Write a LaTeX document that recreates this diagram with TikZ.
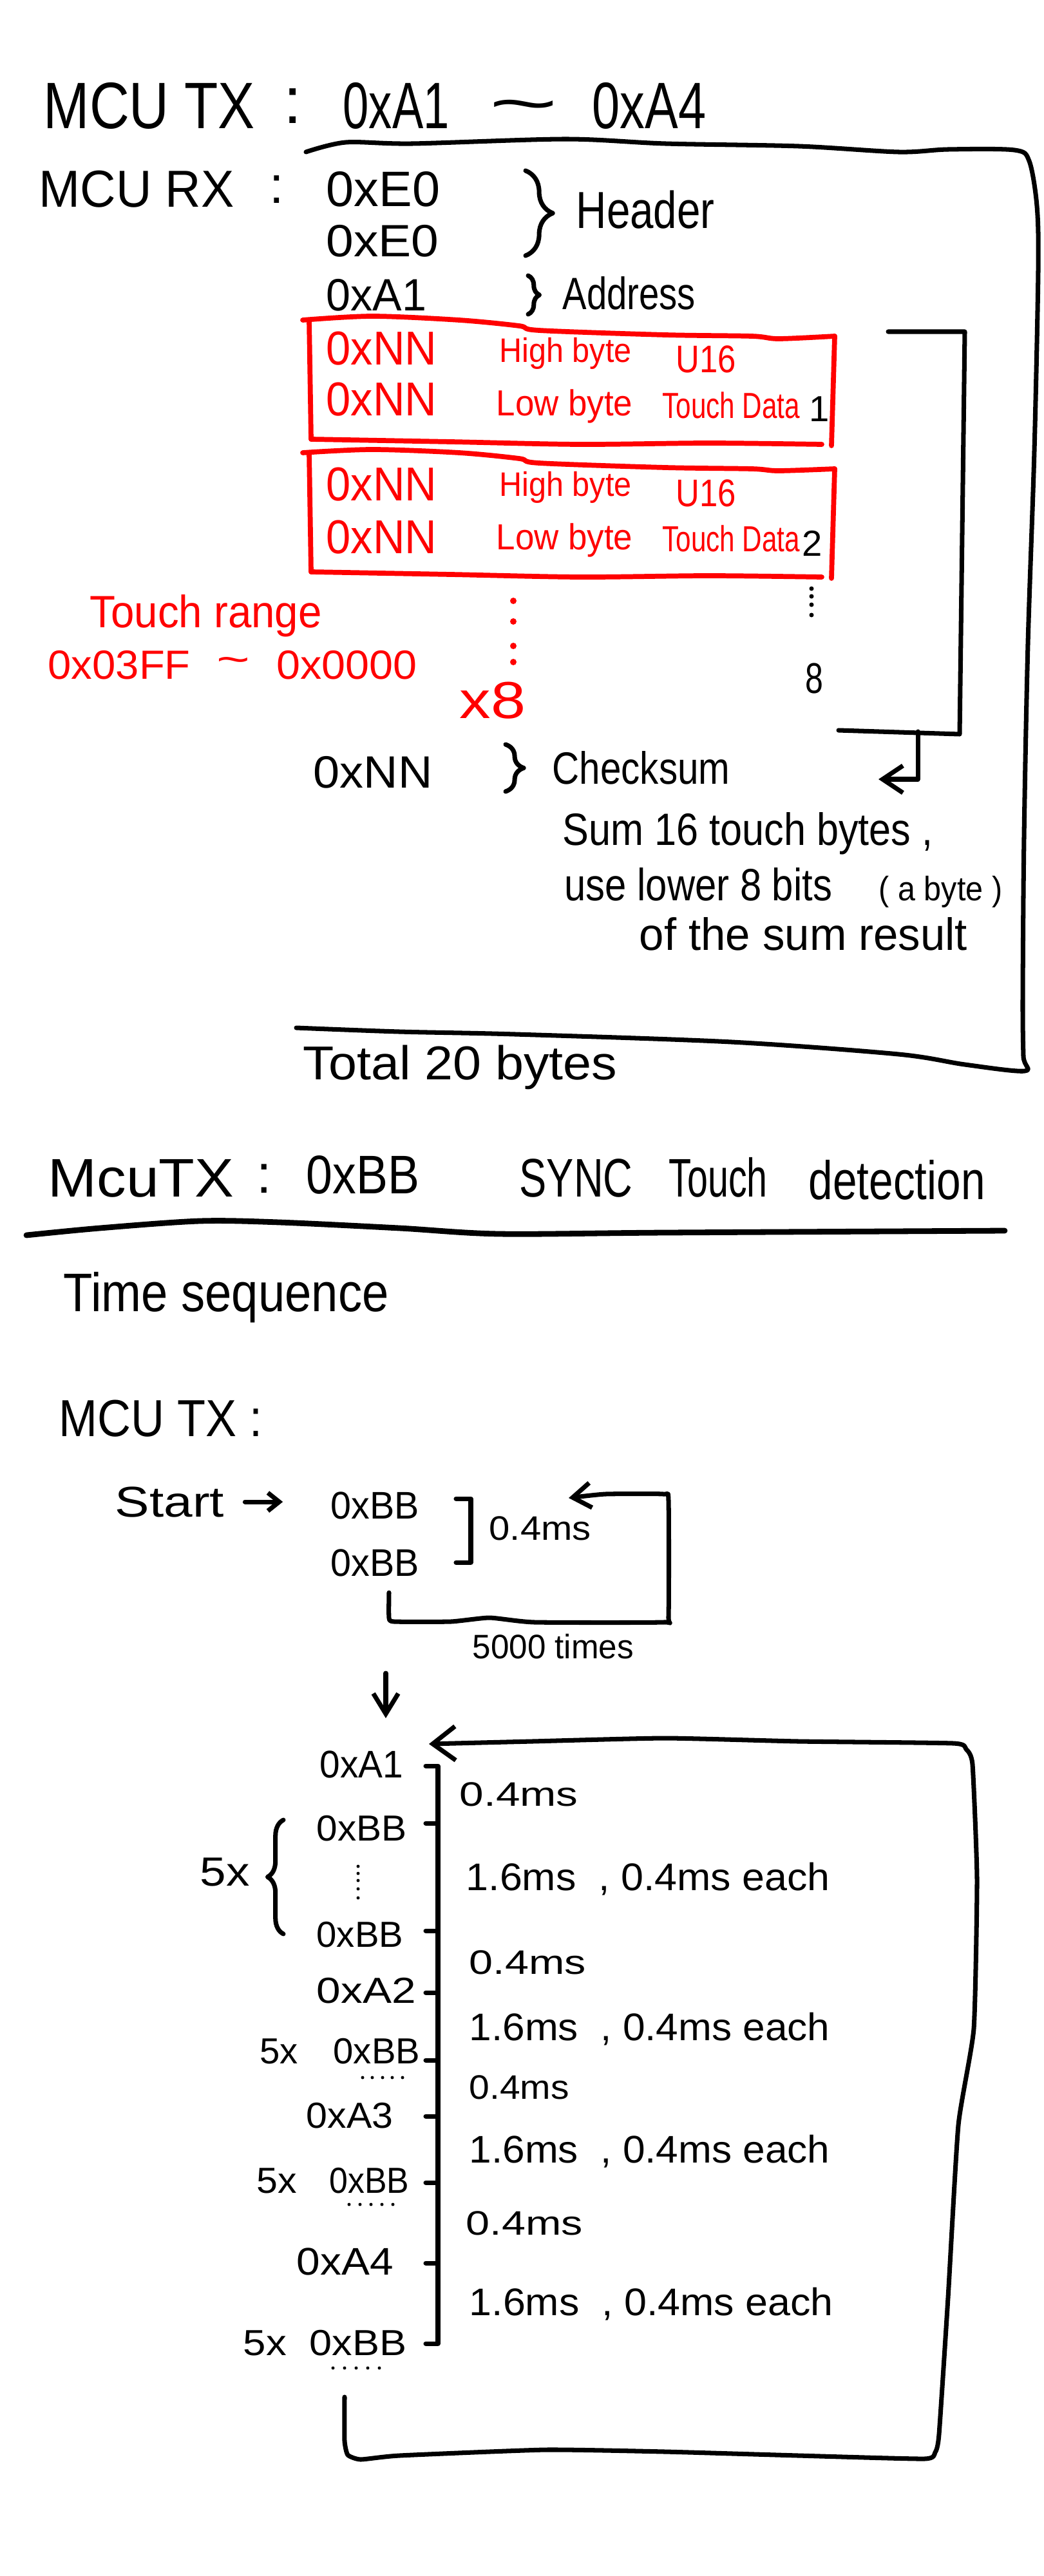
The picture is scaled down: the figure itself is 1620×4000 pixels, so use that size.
\documentclass[tikz,border=0pt]{standalone}
\usepackage{fontspec}
\setmainfont{Liberation Sans}
\usepackage{graphicx}
\usetikzlibrary{arrows.meta,decorations.pathreplacing}
\definecolor{inkred}{RGB}{255,0,0}
\newcommand{\hsq}[2]{\scalebox{#1}[1]{#2}}
\begin{document}
\begin{tikzpicture}[x=0.01cm,y=-0.01cm,
 pen/.style={line width=2pt, line cap=round, line join=round},
 rpen/.style={pen, draw=inkred, line width=2.2pt},
 tx/.style={inner sep=0pt, anchor=base west, font=\fontsize{#1}{#1}\selectfont},
 rtx/.style={tx=#1, text=inkred},
 barb/.style={-{Straight Barb[length=9pt,width=12pt]}},
 sbarb/.style={-{Straight Barb[length=5pt,width=8pt]}},
 bracepen/.style={pen, decorate, decoration={brace, amplitude=#1}},
]
\fill[white] (0,0) rectangle (1620,4000);
\useasboundingbox (0,0) rectangle (1620,4000);

% ---------- Section 1 ----------
\node[tx=29] (t1) at (67,200) {\hsq{0.84}{MCU TX}};
\node[tx=29] (t1c) at (440,192) {:};
\node[tx=29] (t1a) at (532,200) {\hsq{0.71}{0xA1}};
\node[tx=29] (t1t) at (759,196) {\hsq{1.8}{\textasciitilde}};
\node[tx=29] (t1b) at (919,200) {\hsq{0.76}{0xA4}};

\node[tx=23] (rx) at (60,322) {\hsq{0.95}{MCU RX}};
\node[tx=23] (rxc) at (418,316) {:};
\node[tx=22] (e0a) at (506,321) {\hsq{1.0}{0xE0}};
\node[tx=20] (e0b) at (506,399) {\hsq{1.09}{0xE0}};
\draw[bracepen=12pt] (816,265) -- (816,397);
\node[tx=23] (hdr) at (894,355) {\hsq{0.81}{Header}};
\node[tx=20] (a1) at (506,482) {\hsq{0.97}{0xA1}};
\draw[bracepen=5pt] (820,428) -- (820,488);
\node[tx=20] (addr) at (873,480) {\hsq{0.8}{Address}};

% big bracket
\draw[pen] plot[smooth,tension=0.5] coordinates {(475,236) (537,221) (640,223) (878,216) (1033,223) (1240,227) (1395,236) (1472,232) (1575,233) (1598,250) (1610,320) (1612,420) (1606,700) (1596,1000) (1590,1300) (1588,1550) (1589,1640) (1591,1663) (1498,1653) (1395,1637) (1136,1618) (800,1606) (620,1602) (460,1596)};

% red box 1
\draw[rpen] plot[smooth,tension=0.5] coordinates {(470,497) (578,491) (713,497) (806,506) (837,513) (1033,520) (1167,522) (1209,526) (1296,522)};
\draw[rpen] (480,497) -- (483,682);
\draw[rpen] plot[smooth,tension=0.5] coordinates {(483,682) (700,686) (900,690) (1100,688) (1276,690)};
\draw[rpen] (1296,522) -- (1291,692);
\node[rtx=21] (nn1h) at (506,567) {\hsq{0.93}{0xNN}};
\node[rtx=15] (hb1) at (775,562) {\hsq{0.92}{High byte}};
\node[rtx=17] (u1) at (1049,578) {\hsq{0.85}{U16}};
\node[rtx=21] (nn1l) at (506,645) {\hsq{0.93}{0xNN}};
\node[rtx=16] (lw1) at (770,645) {\hsq{0.94}{Low byte}};
\node[rtx=16] (td1) at (1028,649) {\hsq{0.75}{Touch Data}};
\node[tx=16] (n1) at (1256,654) {1};

% red box 2
\draw[rpen] plot[smooth,tension=0.5] coordinates {(470,703) (578,698) (713,703) (806,712) (837,719) (1033,726) (1167,728) (1209,731) (1296,728)};
\draw[rpen] (480,703) -- (483,888);
\draw[rpen] plot[smooth,tension=0.5] coordinates {(483,888) (700,892) (900,896) (1100,894) (1276,896)};
\draw[rpen] (1296,728) -- (1291,898);
\node[rtx=21] (nn2h) at (506,777) {\hsq{0.93}{0xNN}};
\node[rtx=15] (hb2) at (775,770) {\hsq{0.92}{High byte}};
\node[rtx=17] (u2) at (1049,786) {\hsq{0.85}{U16}};
\node[rtx=21] (nn2l) at (506,859) {\hsq{0.93}{0xNN}};
\node[rtx=16] (lw2) at (770,853) {\hsq{0.94}{Low byte}};
\node[rtx=16] (td2) at (1028,856) {\hsq{0.75}{Touch Data}};
\node[tx=16] (n2) at (1245,863) {2};

\foreach \yy in {914,926,939,955} \fill (1260,\yy) circle (3.5);
\node[tx=19] (eight) at (1250,1076) {\hsq{0.75}{8}};

\foreach \yy in {933,965,1003,1028} \fill[inkred] (797,\yy) circle (5);
\node[rtx=20] (trange) at (139,974) {\hsq{0.93}{Touch range}};
\node[rtx=18] (r1) at (74,1054) {\hsq{1.03}{0x03FF}};
\node[rtx=18] (rt) at (336,1045) {\hsq{1.4}{\textasciitilde}};
\node[rtx=18] (r2) at (429,1054) {\hsq{1.05}{0x0000}};
\node[rtx=23] (x8) at (713,1115) {\hsq{1.2}{x8}};

% inner bracket
\draw[pen] (1379,515) -- (1498,515) -- (1490,1140) -- (1302,1134);
\coordinate (ib) at (1425,1136);
\coordinate (ibend) at (1364,1210);
\draw[pen,barb] (ib) -- (ib |- ibend) -- (ibend);

\node[tx=20] (nnc) at (486,1223) {\hsq{1.05}{0xNN}};
\draw[bracepen=8pt] (785,1156) -- (785,1229);
\node[tx=20] (cks) at (857,1217) {\hsq{0.83}{Checksum}};
\node[tx=20] (sum) at (873,1312) {\hsq{0.87}{Sum 16 touch bytes ,}};
\node[tx=20] (use) at (876,1398) {\hsq{0.85}{use lower 8 bits}};
\node[tx=15] (abyte) at (1364,1398) {\hsq{0.92}{( a byte )}};
\node[tx=20] (ofs) at (992,1475) {\hsq{0.98}{of the sum result}};
\node[tx=21] (tot) at (470,1676) {\hsq{1.07}{Total 20 bytes}};

% ---------- Section 2 ----------
\node[tx=24] (s2a) at (74,1858) {\hsq{1.08}{McuTX}};
\node[tx=24] (s2c) at (398,1852) {:};
\node[tx=24] (s2b) at (475,1853) {\hsq{0.87}{0xBB}};
\node[tx=24] (s2d) at (806,1858) {\hsq{0.75}{SYNC}};
\node[tx=24] (s2e) at (1038,1858) {\hsq{0.68}{Touch}};
\node[tx=24] (s2f) at (1255,1862) {\hsq{0.8}{detection}};
\draw[pen,line width=2.5pt] plot[smooth,tension=0.5] coordinates {(41,1918) (155,1907) (310,1896) (434,1898) (620,1907) (775,1916) (1033,1914) (1560,1911)};

\node[tx=24] (tseq) at (98,2036) {\hsq{0.88}{Time sequence}};
\node[tx=23] (mtx) at (91,2230) {\hsq{0.89}{MCU TX :}};

\node[tx=19] (start) at (178,2355) {\hsq{1.2}{Start}};
\node[tx=17] (bb1) at (513,2358) {\hsq{0.96}{0xBB}};
\node[tx=17] (bb2) at (513,2447) {\hsq{0.96}{0xBB}};
\draw[pen,sbarb,shorten <=9pt,shorten >=21pt] (start.east) -- (start.east -| bb1.west);
\draw[pen] (708,2327) -- (731,2327) -- (731,2426) -- (708,2426);
\node[tx=15] (ms0) at (759,2391) {\hsq{1.1}{0.4ms}};
\draw[pen,-{Straight Barb[length=8pt,width=11pt]}] plot[smooth,tension=0.3] coordinates {(604,2473) (604,2512) (612,2518) (700,2518) (760,2512) (830,2519) (1030,2519) (1038,2510) (1038,2330) (1030,2320) (940,2320) (883,2326)};
\node[tx=15] (k5) at (733,2575) {\hsq{0.97}{5000 times}};
\coordinate (dn1) at (599,2598);
\coordinate (dn2) at (599,2668);
\draw[pen,-{Straight Barb[length=9pt,width=11pt]}] (dn1) -- (dn2);

% lower sequence
\node[tx=17] (la1) at (496,2760) {\hsq{0.95}{0xA1}};
\node[tx=15] (lm1) at (713,2804) {\hsq{1.28}{0.4ms}};
\node[tx=16] (lbb1) at (491,2858) {\hsq{1.04}{0xBB}};
\node[tx=18] (l5xa) at (310,2928) {\hsq{1.15}{5x}};
\draw[bracepen=7pt] (440,3003) -- (440,2826);
\foreach \yy in {2898,2909,2920,2933,2947} \fill (556,\yy) circle (2.5);
\node[tx=17] (l16a) at (723,2935) {\hsq{1.05}{1.6ms\ \ , 0.4ms each}};
\node[tx=16] (lbb2) at (491,3023) {\hsq{1.0}{0xBB}};
\node[tx=15] (lm2) at (728,3065) {\hsq{1.26}{0.4ms}};
\node[tx=16] (la2) at (491,3110) {\hsq{1.2}{0xA2}};
\node[tx=17] (l16b) at (728,3168) {\hsq{1.04}{1.6ms\ \ , 0.4ms each}};
\node[tx=16] (l5xb) at (403,3204) {\hsq{1.0}{5x}};
\node[tx=16] (lbb3) at (517,3204) {\hsq{1.0}{0xBB}};
\foreach \xx in {563,578,594,609,625} \fill (\xx,3226) circle (2.5);
\node[tx=15] (lm3) at (728,3259) {\hsq{1.08}{0.4ms}};
\node[tx=16] (la3) at (475,3304) {\hsq{1.05}{0xA3}};
\node[tx=17] (l16c) at (728,3358) {\hsq{1.04}{1.6ms\ \ , 0.4ms each}};
\node[tx=16] (l5xc) at (398,3405) {\hsq{1.05}{5x}};
\node[tx=16] (lbb4) at (511,3405) {\hsq{0.92}{0xBB}};
\foreach \xx in {542,559,576,593,610} \fill (\xx,3423) circle (2.5);
\node[tx=15] (lm4) at (723,3470) {\hsq{1.26}{0.4ms}};
\node[tx=17] (la4) at (460,3532) {\hsq{1.1}{0xA4}};
\node[tx=17] (l16d) at (728,3595) {\hsq{1.05}{1.6ms\ \ , 0.4ms each}};
\node[tx=16] (l5xd) at (377,3657) {\hsq{1.13}{5x}};
\node[tx=16] (lbb5) at (480,3657) {\hsq{1.12}{0xBB}};
\foreach \xx in {517,535,553,571,589} \fill (\xx,3677) circle (2.5);

% spine bracket
\draw[pen] (661,2742) -- (680,2742) -- (680,3639) -- (661,3639);
\foreach \yy in {2831,2998,3094,3199,3286,3389,3514} \draw[pen] (661,\yy) -- (680,\yy);

% big loop
\draw[pen,-{Straight Barb[length=10pt,width=15pt]}] plot[smooth,tension=0.3] coordinates {(535,3722) (535,3790) (540,3812) (560,3819) (620,3813) (847,3804) (1033,3807) (1240,3813) (1435,3818) (1452,3808) (1458,3780) (1472,3568) (1488,3300) (1512,3150) (1517,2918) (1510,2740) (1500,2716) (1480,2707) (1240,2704) (1033,2699) (826,2704) (666,2708)};
\end{tikzpicture}
\end{document}
